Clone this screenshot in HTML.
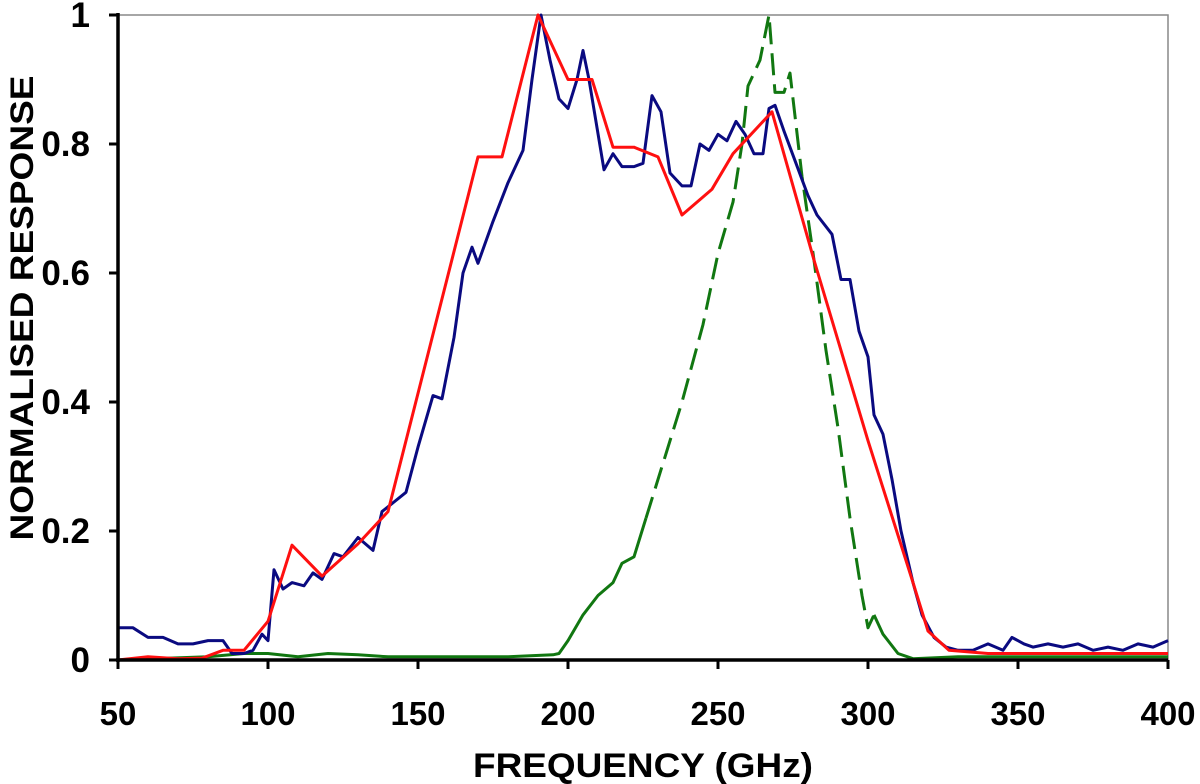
<!DOCTYPE html>
<html><head><meta charset="utf-8"><style>
html,body{margin:0;padding:0;background:#fff;}
svg{display:block;font-family:"Liberation Sans",Arial,sans-serif;font-weight:bold;}
</style></head><body>
<svg id="chart" width="1200" height="784"></svg>
<script>
const xTicks=[50,100,150,200,250,300,350,400];
const yTicks=[0,0.2,0.4,0.6,0.8,1];
const yTickLabels=["0","0.2","0.4","0.6","0.8","1"];
const blueF=[50,55,60,65,70,75,80,85,88,92,95,98,100,102,105,108,112,115,118,122,125,130,135,138,142,146,150,155,158,162,165,168,170,175,180,185,188,191,194,197,200,203,205,207,212,215,218,222,225,228,231,234,238,241,244,247,250,253,256,259,262,265,267,269,272,276,280,283,288,291,294,297,300,302,305,308,311,315,318,322,326,330,335,340,345,348,352,355,360,365,370,375,380,385,390,395,400];
const blueV=[0.05,0.05,0.035,0.035,0.025,0.025,0.03,0.03,0.01,0.01,0.015,0.04,0.03,0.14,0.11,0.12,0.115,0.135,0.125,0.165,0.16,0.19,0.17,0.23,0.245,0.26,0.33,0.41,0.405,0.5,0.6,0.64,0.615,0.68,0.74,0.79,0.9,1.0,0.93,0.87,0.855,0.9,0.945,0.9,0.76,0.785,0.765,0.765,0.77,0.875,0.85,0.755,0.735,0.735,0.8,0.79,0.815,0.805,0.835,0.815,0.785,0.785,0.855,0.86,0.82,0.77,0.72,0.69,0.66,0.59,0.59,0.51,0.47,0.38,0.35,0.28,0.2,0.12,0.07,0.035,0.02,0.015,0.015,0.025,0.015,0.035,0.025,0.02,0.025,0.02,0.025,0.015,0.02,0.015,0.025,0.02,0.03];
const redF=[50,60,70,78,85,92,100,108,118,130,140,170,178,190,200,208,215,222,230,238,248,255,268,282,300,315,320,327,340,400];
const redV=[0,0.005,0.002,0.003,0.015,0.015,0.06,0.178,0.13,0.18,0.23,0.78,0.78,1.0,0.9,0.9,0.795,0.795,0.78,0.69,0.73,0.785,0.85,0.62,0.34,0.12,0.045,0.015,0.01,0.01];
const greenF=[50,80,92,100,110,120,130,140,160,180,195,197,200,205,210,215,218,222,226,232,238,245,250,255,258,260,264,267,269,272,274,278,282,286,290,294,298,300,302,305,310,315,330,400];
const greenV=[0,0.005,0.01,0.01,0.005,0.01,0.008,0.005,0.005,0.005,0.008,0.01,0.03,0.07,0.1,0.12,0.15,0.16,0.22,0.31,0.4,0.52,0.63,0.71,0.8,0.89,0.93,1.0,0.88,0.88,0.91,0.75,0.62,0.48,0.36,0.22,0.1,0.05,0.07,0.04,0.01,0.002,0.005,0.005];

const svg=document.getElementById('chart');
const NS='http://www.w3.org/2000/svg';
const L=118,R=1168,T=15,B=660;
const xs=f=>L+(f-50)/350*(R-L);
const ys=v=>B-v*(B-T);
function mk(tag,attrs){const e=document.createElementNS(NS,tag);for(const k in attrs)e.setAttribute(k,attrs[k]);svg.appendChild(e);return e;}

let e=mk('rect',{x:L,y:T,width:R-L,height:B-T,fill:'none',stroke:'#888','stroke-width':1.5});



function line(F,V,lo,hi,color,w,dash,name){
  let pts=[];for(let i=0;i<F.length;i++){if(F[i]>=lo&&F[i]<=hi)pts.push(xs(F[i]).toFixed(1)+','+ys(V[i]).toFixed(1));}
  const p=mk('polyline',{points:pts.join(' '),fill:'none',stroke:color,'stroke-width':w,'stroke-linejoin':'round'});
  if(dash)p.setAttribute('stroke-dasharray',dash);
  
  
}
line(greenF,greenV,50,226,'#117711',3,null,'green-series-solid-left');
line(greenF,greenV,226,302,'#117711',3,'22,9','green-series-dashed');
line(greenF,greenV,302,400,'#117711',3,null,'green-series-solid-right');
line(blueF,blueV,50,400,'#0a0a80',3,null,'blue-series');
line(redF,redV,50,400,'#ff1010',3,null,'red-series');

e=mk('line',{x1:L,y1:T-2,x2:L,y2:B+2,stroke:'#000','stroke-width':3.5});


e=mk('line',{x1:L-2,y1:B,x2:R,y2:B,stroke:'#000','stroke-width':3.5});



yTicks.forEach((v,i)=>{
  const t=mk('line',{x1:L-9,y1:ys(v),x2:L,y2:ys(v),stroke:'#000','stroke-width':3});
  
  
  const tx=mk('text',{x:90,y:ys(v)+12,'text-anchor':'end','font-size':35,fill:'#000'});
  tx.textContent=yTickLabels[i];
  
  
});
xTicks.forEach(f=>{
  const t=mk('line',{x1:xs(f),y1:B,x2:xs(f),y2:B+9,stroke:'#000','stroke-width':3});
  
  
  const tx=mk('text',{x:xs(f),y:725,'text-anchor':'middle','font-size':33,fill:'#000'});
  tx.textContent=String(f);
  
  
});
e=mk('text',{x:643,y:777,'text-anchor':'middle','font-size':34,fill:'#000',textLength:340,lengthAdjust:'spacingAndGlyphs'});
e.textContent='FREQUENCY (GHz)';


e=mk('text',{x:0,y:0,'text-anchor':'middle','font-size':32,fill:'#000',textLength:465,lengthAdjust:'spacingAndGlyphs',transform:'translate(33,308) rotate(-90)'});
e.textContent='NORMALISED RESPONSE';


</script>
</body></html>
